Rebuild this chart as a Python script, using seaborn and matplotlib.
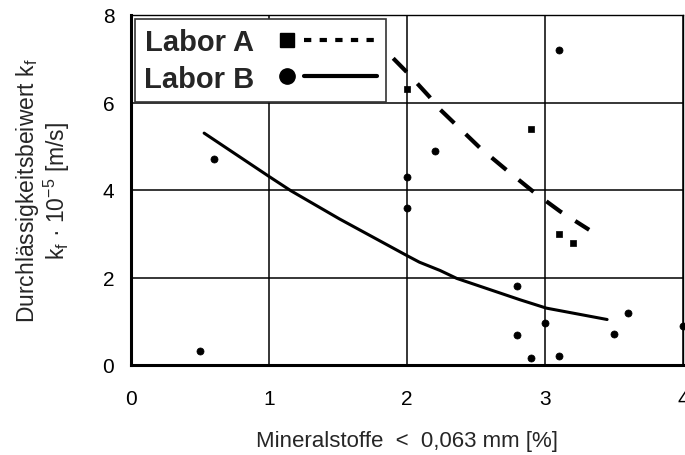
import pandas as pd
import matplotlib.pyplot as plt
import seaborn as sns
from matplotlib.lines import Line2D
from matplotlib.legend_handler import HandlerBase

# Messpunkte Labor A
a_x = [2.0, 2.9, 3.1, 3.2]
a_y = [6.3, 5.4, 3.0, 2.8]

# Messpunkte Labor B
b_x = [0.5, 0.6, 2.0, 2.0, 2.2, 2.8, 2.8, 2.9, 3.0, 3.1, 3.1, 3.5, 3.6, 4.0]
b_y = [0.32, 4.7, 4.3, 3.6, 4.9, 1.8, 0.68, 0.15, 0.96, 0.2, 7.2, 0.7, 1.2, 0.9]

# Trendlinien
a_fit_x = [1.9, 2.0, 2.16, 2.24, 2.53, 2.72, 2.92, 3.11, 3.32]
a_fit_y = [7.01, 6.69, 6.14, 5.84, 4.96, 4.46, 3.95, 3.51, 3.09]
b_fit_x = [0.53, 1.0, 1.16, 1.51, 2.0, 2.09, 2.24, 2.36, 2.82, 3.01, 3.45]
b_fit_y = [5.30, 4.31, 3.98, 3.34, 2.50, 2.35, 2.16, 1.98, 1.49, 1.30, 1.04]

xticks = [0, 1, 2, 3, 4]
yticks = [0, 2, 4, 6, 8]

sns.set_style("white")
plt.rcParams['font.family'] = ['Liberation Sans', 'DejaVu Sans']
plt.rcParams['mathtext.fontset'] = 'custom'
plt.rcParams['mathtext.rm'] = 'Liberation Sans'
plt.rcParams['mathtext.it'] = 'Liberation Sans'


class MarkerThenLine(HandlerBase):
    # Legendensymbol: Marker links, Linie rechts daneben
    def create_artists(self, legend, orig_handle, xdescent, ydescent,
                       width, height, fontsize, trans):
        marker, ms, dashes = orig_handle
        y = height / 2 - ydescent
        x0 = -xdescent
        mk = Line2D([x0 + 0.07 * width], [y], marker=marker, markersize=ms,
                    color='black', linestyle='none')
        ln = Line2D([x0 + 0.245 * width, x0 + width], [y, y], color='black',
                    linewidth=3.0, linestyle=dashes)
        mk.set_transform(trans)
        ln.set_transform(trans)
        return [mk, ln]


df_a = pd.DataFrame({'x': a_x, 'y': a_y})
df_b = pd.DataFrame({'x': b_x, 'y': b_y})
fit_a = pd.DataFrame({'x': a_fit_x, 'y': a_fit_y})
fit_b = pd.DataFrame({'x': b_fit_x, 'y': b_fit_y})

fig = plt.figure(figsize=(6.85, 4.56), dpi=100)
ax = fig.add_axes([131 / 685, 90 / 456, 552 / 685, 350 / 456])

ax.grid(True, color='black', linewidth=1.1)
ax.set_axisbelow(True)

sns.lineplot(data=fit_a, x='x', y='y', ax=ax, color='black', linewidth=3.0,
             linestyle=(0, (4.6, 3.8)), sort=False)
sns.lineplot(data=fit_b, x='x', y='y', ax=ax, color='black', linewidth=2.2, sort=False)
sns.scatterplot(data=df_a, x='x', y='y', ax=ax, marker='s', s=24, color='black',
                edgecolor='black', linewidth=0.5, zorder=5, clip_on=False)
sns.scatterplot(data=df_b, x='x', y='y', ax=ax, marker='o', s=26, color='black',
                edgecolor='black', linewidth=0.5, zorder=5, clip_on=False)

ax.set_xlim(0, 4)
ax.set_ylim(0, 8)
ax.set_xticks(xticks)
ax.set_yticks(yticks)
ax.tick_params(axis='both', direction='out', length=6, width=1.8, labelsize=15,
               colors='black')
ax.tick_params(axis='x', pad=11)
ax.tick_params(axis='y', pad=6)

for side in ['top', 'right']:
    ax.spines[side].set_linewidth(1.0)
for side in ['bottom', 'left']:
    ax.spines[side].set_linewidth(2.2)
for sp in ax.spines.values():
    sp.set_color('black')

ax.set_xlabel('Mineralstoffe  <  0,063 mm [%]', fontsize=16, labelpad=16)
ax.set_ylabel('Durchlässigkeitsbeiwert k$_\\mathrm{f}$\n'
              'k$_\\mathrm{f}$ · 10$^{-5}$ [m/s]', fontsize=16.5, labelpad=22,
              linespacing=1.05)

h_a = ('s', 10, (0, (1.75, 2.0)))
h_b = ('o', 11, '-')
leg = ax.legend([h_a, h_b], ['Labor A', 'Labor B'],
                handler_map={tuple: MarkerThenLine()}, markerfirst=False,
                loc='upper left', bbox_to_anchor=(0.007, 0.99),
                fancybox=False, framealpha=1, edgecolor='#333333',
                prop={'weight': 'bold', 'size': 21}, handlelength=3.3,
                handletextpad=0.9, borderpad=0.32, labelspacing=0.3,
                borderaxespad=0.0)
leg.get_frame().set_linewidth(1.2)

fig.savefig('out.png', dpi=100)
